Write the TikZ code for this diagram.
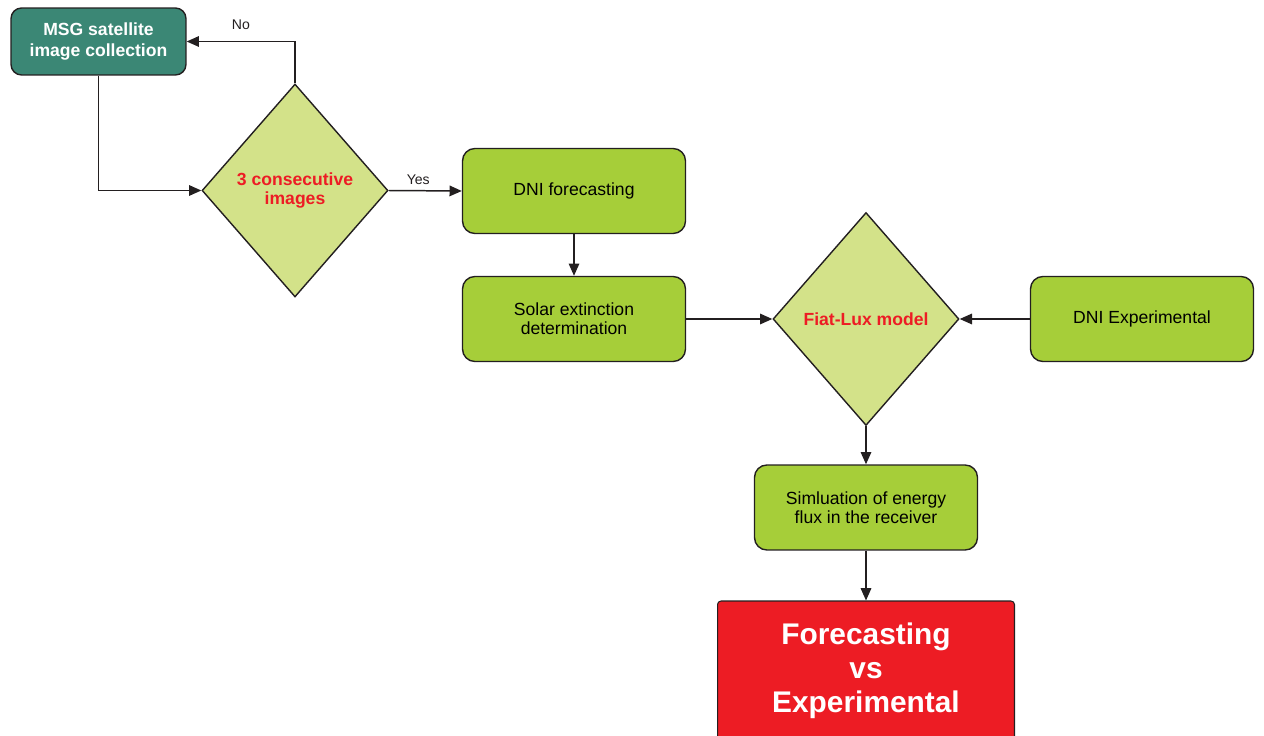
\documentclass[tikz,border=0pt]{standalone}
\usepackage{fontspec}
\setmainfont{Liberation Sans}
\usetikzlibrary{shapes.geometric}
\usetikzlibrary{positioning}
\usetikzlibrary{arrows.meta}
\usepackage{xcolor}
\definecolor{tealbox}{RGB}{59,135,117}
\definecolor{greenbox}{RGB}{166,206,57}
\definecolor{palegreen}{RGB}{211,226,137}
\definecolor{redtext}{RGB}{237,28,36}
\definecolor{edge}{RGB}{35,31,32}
\tikzset{
  startbox/.style={draw=edge, line width=0.8pt, fill=tealbox, rounded corners=6pt,
    minimum width=3.5cm, minimum height=1.34cm, align=center, text=white,
    font=\fontsize{10}{11.5}\selectfont\bfseries},
  stepbox/.style={draw=edge, line width=0.8pt, fill=greenbox, rounded corners=7pt,
    minimum width=4.46cm, minimum height=1.7cm, align=center,
    font=\fontsize{10}{11}\selectfont},
  decision/.style={diamond, draw=edge, line width=0.8pt, fill=palegreen, inner sep=0pt,
    minimum width=3.72cm, minimum height=4.26cm, align=center, text=redtext,
    font=\fontsize{10}{11}\selectfont\bfseries},
  resultbox/.style={draw=edge, line width=0.6pt, fill=redtext, rounded corners=2pt,
    minimum width=5.94cm, minimum height=2.8cm, align=center, text=white,
    font=\fontsize{17}{19.5}\selectfont\bfseries},
  flow/.style={draw=edge, line width=0.85pt, -{Triangle[length=7pt,width=6pt]}},
  tag/.style={font=\fontsize{8}{9}\selectfont, text=edge}
}
\begin{document}
\begin{tikzpicture}[x=0.02cm,y=-0.02cm]
  \clip (0,0) rectangle (1264,736);
  % boxes
  \node[startbox] (msg) at (98.5,41.5) {MSG satellite\\image collection};
  \node[decision] (cons) at (295,190.5) {3 consecutive\\images};
  \node[stepbox] (fore) at (574,191) {DNI forecasting};
  \node[stepbox] (ext) at (574,319) {Solar extinction\\determination};
  \node[decision] (fiat) at (866,319) {Fiat-Lux model};
  \node[stepbox] (exp) at (1142,319) {DNI Experimental};
  \node[stepbox] (sim) at (866,507.5) {Simluation of energy\\flux in the receiver};
  \node[resultbox] (res) at (866,671) {Forecasting\\vs\\Experimental};
  % connectors
  \draw[flow] (msg.south) |- (cons.west);
  \draw[flow] (cons.north) |- node[tag, above, pos=.75, yshift=3pt] {No} (msg.east);
  \draw[flow] (cons.east) -- node[tag, above, xshift=-4pt] {Yes} (fore.west);
  \draw[flow] (fore) -- (ext);
  \draw[flow] (ext) -- (fiat);
  \draw[flow] (exp) -- (fiat);
  \draw[flow] (fiat) -- (sim);
  \draw[flow] (sim) -- (res);
\end{tikzpicture}
\end{document}
